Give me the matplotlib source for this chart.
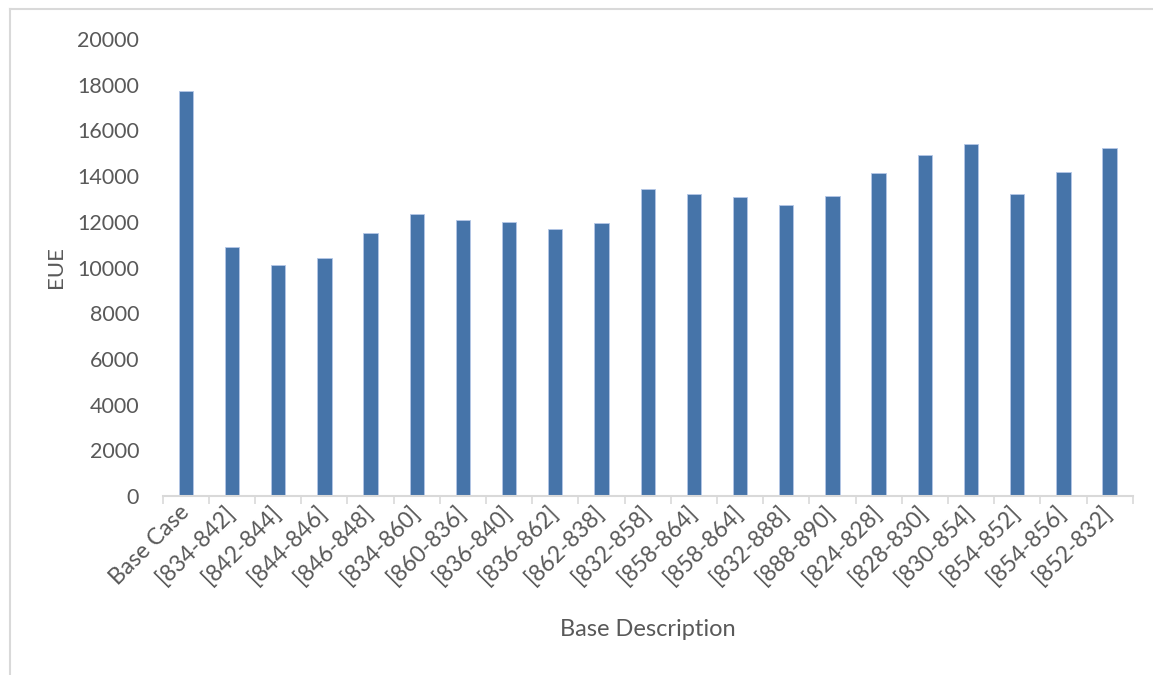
import matplotlib.pyplot as plt
from matplotlib.lines import Line2D

plt.rcParams['font.family'] = ['Lato', 'DejaVu Sans']

cases = ['Base Case', '[834-842]', '[842-844]', '[844-846]', '[846-848]', '[834-860]',
         '[860-836]', '[836-840]', '[836-862]', '[862-838]', '[832-858]', '[858-864]',
         '[858-864]', '[832-888]', '[888-890]', '[824-828]', '[828-830]', '[830-854]',
         '[854-852]', '[854-856]', '[852-832]']
eue = [17720, 10910, 10100, 10430, 11520, 12320, 12100, 11990, 11690, 11930, 13420,
       13220, 13080, 12730, 13150, 14130, 14920, 15420, 13220, 14190, 15220]
yticks = list(range(0, 20001, 2000))

bar_color = '#4674A9'
text_color = '#595959'
axis_color = '#D9D9D9'

fig = plt.figure(figsize=(11.53, 6.75), dpi=100)
ax = fig.add_axes([0.1411, 0.2652, 0.8413, 0.677])

x = range(len(cases))
ax.bar(x, eue, width=0.31, color=bar_color, edgecolor='#B4C7E7', linewidth=0.6)

ax.set_xlim(-0.5, len(cases) - 0.5)
ax.set_ylim(0, 20000)
ax.set_yticks(yticks)
ax.set_yticklabels([str(v) for v in yticks])

# category boundaries carry the small tick marks
ax.set_xticks([i - 0.5 for i in range(len(cases) + 1)], minor=True)
ax.tick_params(axis='x', which='minor', length=6, width=1.2, color=axis_color)
ax.set_xticks(list(x))
ax.set_xticklabels(cases, rotation=45, ha='right', va='center', rotation_mode='anchor')
ax.tick_params(axis='x', which='major', length=0, pad=9, labelsize=16.5, labelcolor=text_color)
ax.tick_params(axis='y', length=0, pad=17, labelsize=15.5, labelcolor=text_color)

for side in ['left', 'right', 'top']:
    ax.spines[side].set_visible(False)
ax.spines['bottom'].set_color(axis_color)
ax.spines['bottom'].set_linewidth(1.5)

ax.set_ylabel('EUE', fontsize=16, color=text_color, labelpad=8)
ax.set_xlabel('Base Description', fontsize=17, color=text_color, labelpad=22)

# thin frame around the chart area
fig.add_artist(Line2D([10 / 1153, 10 / 1153], [0, 1 - 9 / 675], color=axis_color, lw=1.5))
fig.add_artist(Line2D([10 / 1153, 1], [1 - 9 / 675, 1 - 9 / 675], color=axis_color, lw=1.5))

fig.savefig('out.png', dpi=100, facecolor='white')
